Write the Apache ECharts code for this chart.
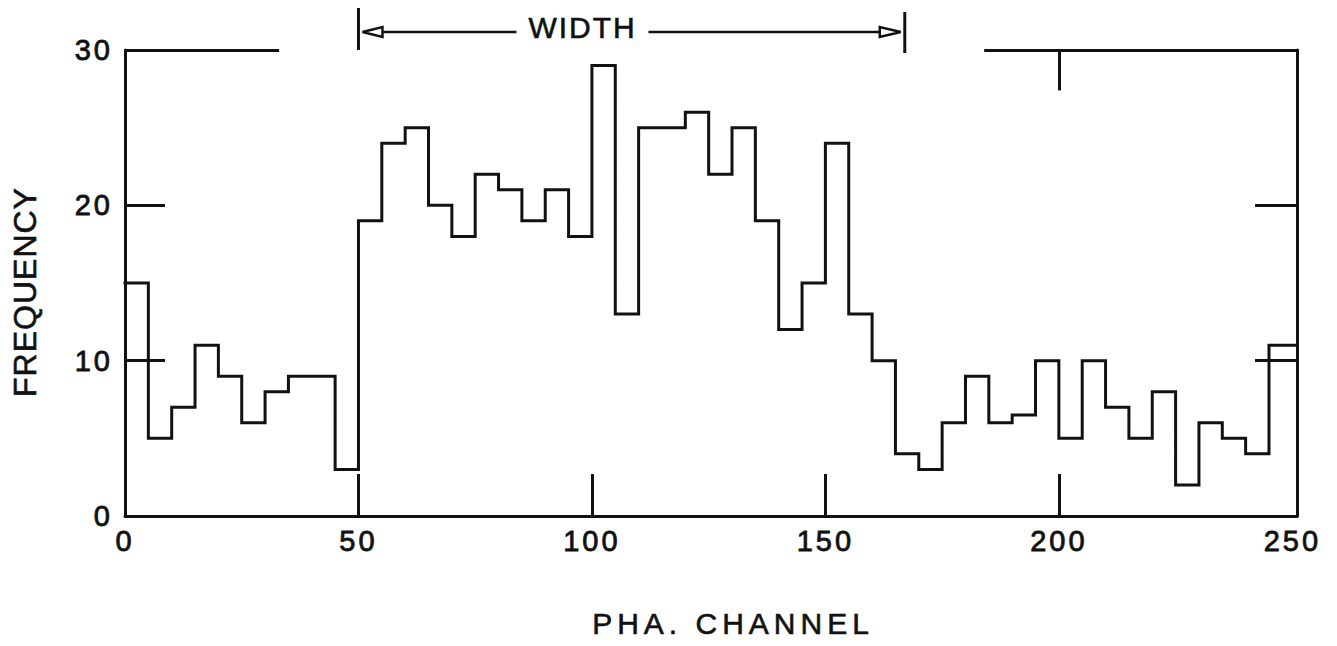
<!DOCTYPE html>
<html>
<head>
<meta charset="utf-8">
<script src="https://cdn.jsdelivr.net/npm/echarts@6/dist/echarts.min.js"></script>
<style>
  html, body { margin: 0; padding: 0; background: #fff; }
  #chart { width: 1337px; height: 646px; }
  #chart svg text { letter-spacing: 3px; }
</style>
</head>
<body>
<div id="chart"></div>
<script>
// ---- data ----
const binStart = [0, 5, 10, 15, 20, 25, 30, 35, 40, 45,
                  50, 55, 60, 65, 70, 75, 80, 85, 90, 95,
                  100, 105, 110, 115, 120, 125, 130, 135, 140, 145,
                  150, 155, 160, 165, 170, 175, 180, 185, 190, 195,
                  200, 205, 210, 215, 220, 225, 230, 235, 240, 245];
const frequency = [15, 5, 7, 11, 9, 6, 8, 9, 9, 3,
                   19, 24, 25, 20, 18, 22, 21, 19, 21, 18,
                   29, 13, 25, 25, 26, 22, 25, 19, 12, 15,
                   24, 13, 10, 4, 3, 6, 9, 6, 6.5, 10,
                   5, 10, 7, 5, 8, 2, 6, 5, 4, 11];
const xTickLabels = [0, 50, 100, 150, 200, 250];
const xInnerTicks = [50, 100, 150, 200];
const yTickLabels = [0, 10, 20, 30];
const xMax = 251;           // right frame edge (channel units)
const yMax = 30;
const topFrameLeftEnd = 33;   // top frame is broken between these channels
const topFrameRightStart = 184;
const topTickAt = 200;
const widthFrom = 50;        // WIDTH bracket limits (channels)
const widthTo = 167;

const INK = '#111';
const FONT = "'Liberation Sans', Arial, sans-serif";

const seriesData = binStart.map((x, i) => [x, frequency[i]]);
seriesData.push([xMax, frequency[frequency.length - 1]]);

const chart = echarts.init(document.getElementById('chart'), null, { renderer: 'svg' });

const labelStyle = {
  fontFamily: FONT, fontSize: 29, color: INK,
  textBorderColor: INK, textBorderWidth: 0.8
};

const option = {
  animation: false,
  backgroundColor: '#fff',
  grid: { left: 125, right: 40, top: 50, bottom: 130, containLabel: false },
  xAxis: {
    type: 'value', min: 0, max: xMax, interval: 50,
    name: 'PHA. CHANNEL', nameLocation: 'middle', nameGap: 92,
    nameTextStyle: { fontFamily: FONT, fontSize: 30, color: INK, padding: [0, 0, 0, 44],
                     textBorderColor: INK, textBorderWidth: 0.6 },
    axisLine: { show: true, onZero: false, lineStyle: { color: INK, width: 3 } },
    axisTick: { show: true, inside: true, length: 42, customValues: xInnerTicks,
                lineStyle: { color: INK, width: 3 } },
    splitLine: { show: false },
    axisLabel: Object.assign({ margin: 10, customValues: xTickLabels,
      formatter: v => (xTickLabels.indexOf(v) >= 0 ? String(v) : '') }, labelStyle)
  },
  yAxis: [{
    type: 'value', min: 0, max: yMax, interval: 10, position: 'left',
    name: 'FREQUENCY', nameLocation: 'middle', nameRotate: 90, nameGap: 84,
    nameTextStyle: { fontFamily: FONT, fontSize: 32, color: INK, padding: [0, 18, 0, 0],
                     textBorderColor: INK, textBorderWidth: 0.6 },
    axisLine: { show: true, onZero: false, lineStyle: { color: INK, width: 3 } },
    axisTick: { show: true, inside: true, length: 40, lineStyle: { color: INK, width: 3 } },
    splitLine: { show: false },
    axisLabel: Object.assign({ margin: 12,
      formatter: v => (yTickLabels.indexOf(v) >= 0 ? String(v) : '') }, labelStyle)
  }, {
    type: 'value', min: 0, max: yMax, interval: 10, position: 'right',
    axisLine: { show: true, onZero: false, lineStyle: { color: INK, width: 3 } },
    axisTick: { show: true, inside: true, length: 42, lineStyle: { color: INK, width: 3 } },
    splitLine: { show: false },
    axisLabel: { show: false }
  }],
  series: [{
    type: 'line',
    step: 'end',
    data: seriesData,
    symbol: 'none',
    clip: false,
    lineStyle: { color: INK, width: 3, join: 'miter', cap: 'square' },
    silent: true,
    markLine: {
      silent: true,
      symbol: ['none', 'none'],
      label: { show: false },
      lineStyle: { color: INK, width: 3, type: 'solid' },
      data: [
        [{ coord: [0, yMax] }, { coord: [topFrameLeftEnd, yMax] }],
        [{ coord: [topFrameRightStart, yMax] }, { coord: [xMax, yMax] }],
        [{ coord: [topTickAt, yMax] }, { coord: [topTickAt, yMax - 2.6] }]
      ]
    }
  }]
};
chart.setOption(option);

// WIDTH bracket above the plot
const xL = chart.convertToPixel({ xAxisIndex: 0 }, widthFrom);
const xR = chart.convertToPixel({ xAxisIndex: 0 }, widthTo);
const yArrow = 32;
chart.setOption({
  graphic: [
    { type: 'line', shape: { x1: xL, y1: 8, x2: xL, y2: 50 }, style: { stroke: INK, lineWidth: 3 } },
    { type: 'line', shape: { x1: xR, y1: 12, x2: xR, y2: 53 }, style: { stroke: INK, lineWidth: 3 } },
    { type: 'line', shape: { x1: xL + 24, y1: yArrow, x2: xL + 158, y2: yArrow }, style: { stroke: INK, lineWidth: 2.5 } },
    { type: 'line', shape: { x1: xL + 290, y1: yArrow, x2: xR - 25, y2: yArrow }, style: { stroke: INK, lineWidth: 2.5 } },
    { type: 'polygon', shape: { points: [[xL + 4, yArrow], [xL + 24, yArrow - 5], [xL + 24, yArrow + 5]] },
      style: { fill: '#fff', stroke: INK, lineWidth: 2.5 } },
    { type: 'polygon', shape: { points: [[xR - 4, yArrow], [xR - 25, yArrow - 5], [xR - 25, yArrow + 5]] },
      style: { fill: '#fff', stroke: INK, lineWidth: 2.5 } },
    { type: 'text', x: xL + 170, y: 27,
      style: { text: 'WIDTH', font: '30px ' + FONT, fill: INK, textAlign: 'left', textVerticalAlign: 'middle',
               stroke: INK, lineWidth: 0.6 } }
  ]
});

function applySpacing() {
  document.querySelectorAll('#chart svg text').forEach(t => {
    const s = t.textContent.trim();
    if (s === 'PHA. CHANNEL') t.style.letterSpacing = '5px';
    else if (s === 'FREQUENCY') t.style.letterSpacing = '1px';
    else if (s === 'WIDTH') t.style.letterSpacing = '2px';
  });
}
chart.on('finished', applySpacing);
applySpacing();
setTimeout(applySpacing, 50);
</script>
</body>
</html>
